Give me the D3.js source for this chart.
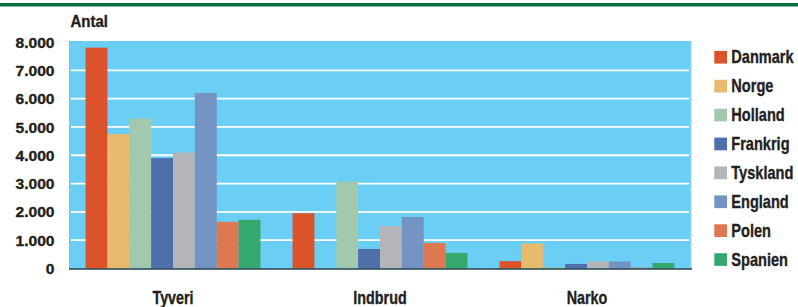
<!DOCTYPE html>
<html lang="da">
<head>
<meta charset="UTF-8">
<title>Antal - Tyveri, Indbrud, Narko</title>
<style>
  body { margin: 0; background: #fff; }
  svg  { display: block; }
  text { font-family: "Liberation Sans", Arial, sans-serif; font-weight: bold;
         fill: #231f20; stroke: #231f20; stroke-width: 0.35px; }
  .tick-label { font-size: 15px; text-anchor: end; }
  .cat-label  { font-size: 17.7px; text-anchor: middle; }
  .legend text { font-size: 18px; }
</style>
</head>
<body>
<svg id="chart" width="798" height="307"></svg>
<script src="https://d3js.org/d3.v7.min.js"></script>
<script>
/* ---------------- Data ---------------- */
const groups    = ['Tyveri', 'Indbrud', 'Narko'];
const countries = ['Danmark', 'Norge', 'Holland', 'Frankrig', 'Tyskland', 'England', 'Polen', 'Spanien'];
const colors    = ['#dc522b', '#e6bb6e', '#a2c8ae', '#4f6fab', '#b4b5b8', '#7394c2', '#de7850', '#35a86e'];

// values per group, in the same order as countries
const tyveri  = [7800, 4750, 5300, 3900, 4100, 6200, 1650, 1720];
const indbrud = [1950, 0, 3080, 690, 1500, 1820, 900, 550];
const narko   = [260, 880, 40, 160, 250, 250, 30, 195];
const values  = [tyveri, indbrud, narko];

const yTicks      = [0, 1000, 2000, 3000, 4000, 5000, 6000, 7000, 8000];
const yTickLabels = ['0', '1.000', '2.000', '3.000', '4.000', '5.000', '6.000', '7.000', '8.000'];

/* ---------------- Layout ---------------- */
const svg = d3.select('#chart');
const plot = { left: 69, right: 691, top: 41, bottom: 269 };
const NARROW = 0.81;   // horizontal squeeze to mimic a condensed bold face

const y  = d3.scaleLinear().domain([0, 8000]).range([268.5, 42]);
const x0 = d3.scaleBand().domain(groups).range([plot.left, plot.right])
             .paddingInner(0.155).paddingOuter(0.08);
const x1 = d3.scaleBand().domain(countries).range([0, x0.bandwidth()]);
const color = d3.scaleOrdinal().domain(countries).range(colors);

// top green rule
svg.append('rect').attr('x', 0).attr('y', 3).attr('width', 798).attr('height', 3.5).attr('fill', '#0b6e3f');

// plot background
svg.append('rect')
  .attr('x', plot.left).attr('y', plot.top)
  .attr('width', plot.right - plot.left).attr('height', plot.bottom - plot.top)
  .attr('fill', '#6bcff5');
svg.append('line')
  .attr('x1', plot.right).attr('x2', plot.right).attr('y1', plot.top).attr('y2', plot.bottom)
  .attr('stroke', '#9adcf7').attr('stroke-width', 1.2);

// gridlines
svg.append('g').selectAll('line')
  .data(yTicks.filter(d => d > 0 && d < 8000))
  .join('line')
    .attr('x1', plot.left + 2).attr('x2', plot.right - 2)
    .attr('y1', d => y(d)).attr('y2', d => y(d))
    .attr('stroke', '#fff').attr('stroke-width', 1.8);

// y tick labels
svg.append('g').selectAll('text')
  .data(yTicks)
  .join('text')
    .attr('class', 'tick-label')
    .attr('transform', d => `translate(54.5,${y(d) + 5.6}) scale(1.04,1)`)
    .text((d, i) => yTickLabels[i]);

svg.append('text')
  .attr('transform', 'translate(70.5,26.5) scale(0.95,1)')
  .style('font-size', '15.8px').text('Antal');

// bars
const gGroups = svg.append('g').selectAll('g')
  .data(groups)
  .join('g')
    .attr('transform', g => `translate(${x0(g)},0)`);

gGroups.selectAll('rect')
  .data((g, gi) => countries.map((c, ci) => ({ country: c, value: values[gi][ci] })))
  .join('rect')
    .attr('x', d => x1(d.country))
    .attr('width', x1.bandwidth())
    .attr('y', d => y(d.value))
    .attr('height', d => y(0) - y(d.value))
    .attr('fill', d => color(d.country));

// baseline
svg.append('line')
  .attr('x1', plot.left).attr('x2', plot.right + 1)
  .attr('y1', y(0) + 0.5).attr('y2', y(0) + 0.5)
  .attr('stroke', '#24414a').attr('stroke-width', 1.6);

// category labels
svg.append('g').selectAll('text')
  .data(groups)
  .join('text')
    .attr('class', 'cat-label')
    .attr('transform', g => `translate(${x0(g) + x0.bandwidth() / 2},303.5) scale(${NARROW},1)`)
    .text(g => g);

// legend
const legend = svg.append('g').attr('class', 'legend')
  .selectAll('g')
  .data(countries)
  .join('g')
    .attr('transform', (d, i) => `translate(714.3, ${57.2 + i * 28.9})`);

legend.append('rect')
  .attr('x', 0).attr('y', -6.3).attr('width', 12.7).attr('height', 12.7)
  .attr('fill', d => color(d));
legend.append('text')
  .attr('transform', `translate(17,6.2) scale(${NARROW},1)`)
  .text(d => d);
</script>
</body>
</html>
